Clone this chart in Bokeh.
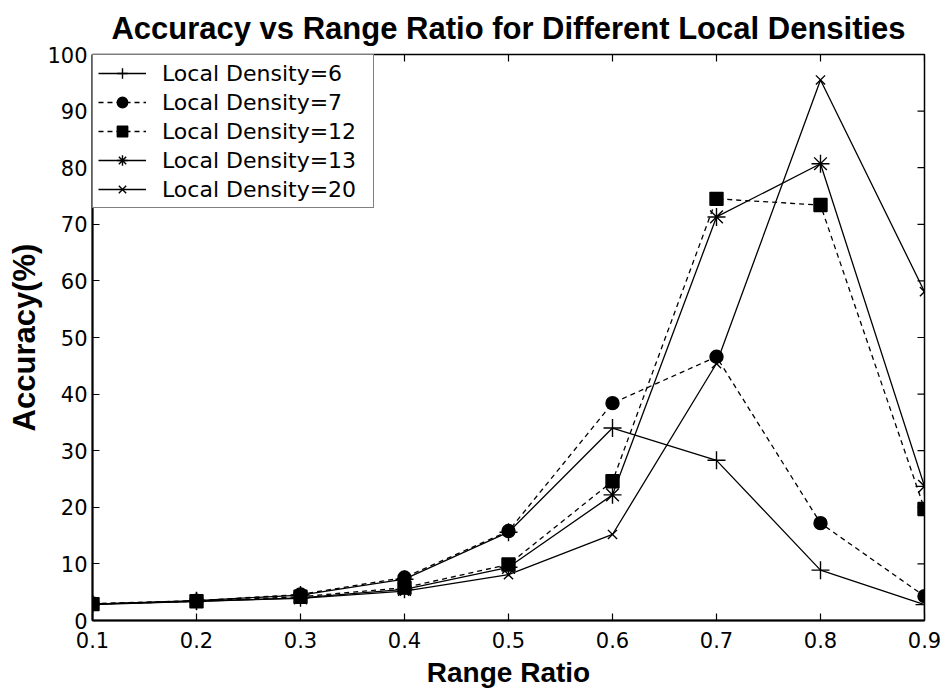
import math
from bokeh.plotting import figure
from bokeh.models import LinearAxis, FixedTicker, Range1d, Legend, LegendItem
from bokeh.embed import file_html
from bokeh.resources import INLINE

range_ratio = [0.1, 0.2, 0.3, 0.4, 0.5, 0.6, 0.7, 0.8, 0.9]
density_6 = [2.9, 3.5, 4.5, 7.3, 15.6, 34.0, 28.3, 8.9, 2.8]
density_7 = [3.0, 3.5, 4.6, 7.6, 15.8, 38.4, 46.6, 17.2, 4.3]
density_12 = [2.9, 3.4, 4.2, 5.8, 9.9, 24.6, 74.5, 73.4, 19.7]
density_13 = [2.9, 3.4, 4.0, 5.5, 9.4, 22.2, 71.3, 80.7, 23.7]
density_20 = [2.8, 3.4, 3.9, 5.2, 8.1, 15.2, 45.4, 95.5, 58.1]
labels = ["Local Density=6", "Local Density=7", "Local Density=12",
          "Local Density=13", "Local Density=20"]
x_ticks = [0.1, 0.2, 0.3, 0.4, 0.5, 0.6, 0.7, 0.8, 0.9]
y_ticks = [0, 10, 20, 30, 40, 50, 60, 70, 80, 90, 100]

BOLD_FONT = "Liberation Sans"
TICK_FONT = "DejaVu Sans"

p = figure(width=946, height=690, output_backend="svg", toolbar_location=None,
           x_range=Range1d(0.1, 0.9), y_range=Range1d(0, 100),
           x_axis_location=None, y_axis_location=None,
           min_border_left=92, min_border_right=22, min_border_top=54,
           min_border_bottom=69)
p.title.text = "Accuracy vs Range Ratio for Different Local Densities"
p.title.text_font = BOLD_FONT
p.title.text_font_size = "31px"
p.title.text_font_style = "bold"
p.title.text_color = "black"
p.title.align = "center"
p.title.offset = 40
p.title.standoff = 17
p.xgrid.visible = False
p.ygrid.visible = False
p.outline_line_color = "black"
p.outline_line_width = 1.5


def style_axis(ax):
    ax.axis_line_color = "black"
    ax.axis_line_width = 2
    ax.major_tick_in = 7
    ax.major_tick_out = 0
    ax.minor_tick_in = 0
    ax.minor_tick_out = 0
    ax.major_tick_line_width = 1.2
    ax.major_label_text_font = TICK_FONT
    ax.major_label_text_color = "black"
    ax.major_label_text_font_size = "21px"
    ax.axis_label_text_font = BOLD_FONT
    ax.axis_label_text_font_style = "bold"
    ax.axis_label_text_color = "black"


xb = LinearAxis(ticker=FixedTicker(ticks=x_ticks), axis_label="Range Ratio")
style_axis(xb)
xb.axis_label_text_font_size = "28px"
xb.major_label_standoff = 11
xb.axis_label_standoff = 6
yl = LinearAxis(ticker=FixedTicker(ticks=y_ticks), axis_label="Accuracy(%)")
style_axis(yl)
yl.axis_label_text_font_size = "31px"
yl.major_label_standoff = 5
yl.axis_label_standoff = 2
p.add_layout(xb, "below")
p.add_layout(yl, "left")

# inward tick marks on the top and right edges of the box
p.scatter(x_ticks, [100] * len(x_ticks), marker="dash", size=14, angle=math.pi / 2,
          line_color="black", line_width=1.2)
p.scatter([0.9] * len(y_ticks), y_ticks, marker="dash", size=14,
          line_color="black", line_width=1.2)

series = [
    (density_6, "cross", "solid", 18, False),
    (density_7, "circle", "5 4", 13, True),
    (density_12, "square", "5 4", 13, True),
    (density_13, "asterisk", "solid", 18, False),
    (density_20, "x", "solid", 13, False),
]

items = []
for (ys, marker, dash, size, filled), lab in zip(series, labels):
    ln = p.line(range_ratio, ys, line_color="black", line_width=1.3, line_dash=dash)
    sc = p.scatter(range_ratio, ys, marker=marker, size=size, line_color="black",
                   line_width=1.4, fill_color="black" if filled else None)
    items.append(LegendItem(label=lab, renderers=[ln, sc]))

legend = Legend(items=items, location="top_left")
legend.margin = 0
legend.padding = 5
legend.spacing = 3
legend.glyph_width = 48
legend.glyph_height = 26
legend.label_height = 26
legend.label_width = 206
legend.label_standoff = 16
legend.label_text_font = TICK_FONT
legend.label_text_font_size = "22px"
legend.label_text_color = "black"
legend.border_line_color = "black"
legend.border_line_width = 1.5
legend.background_fill_alpha = 1
p.add_layout(legend, "center")

open("out.html", "w").write(file_html(p, INLINE))
